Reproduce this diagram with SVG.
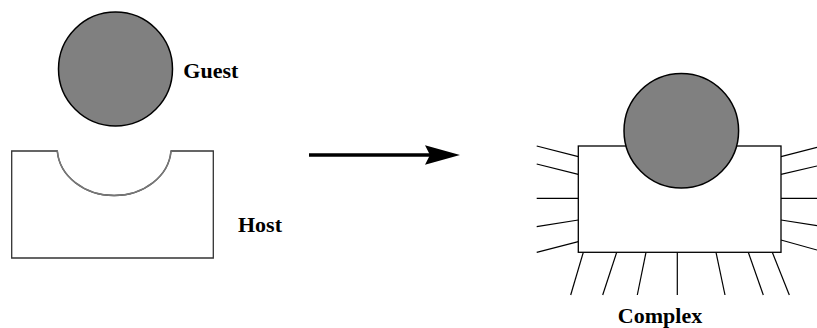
<svg xmlns="http://www.w3.org/2000/svg" width="817" height="328" viewBox="0 0 817 328">
<style>
.lbl{font-family:"Liberation Serif","Times New Roman",serif;font-weight:bold;font-size:22px;fill:#000}
.ball{fill:#808080;stroke:#000;stroke-width:1.5}
.box{fill:#fff;stroke:#000;stroke-width:1.3}
.ray{stroke:#000;stroke-width:1.2;fill:none}
</style>
<g id="guest">
<circle class="ball" cx="115.5" cy="69" r="57"/>
<text class="lbl" x="183.3" y="77.5">Guest</text>
</g>
<g id="host">
<path d="M11.7,151 H57.3 A57,48 0 0 0 171,151 H213.3 V258 H11.7 Z" fill="#fff" stroke="#333" stroke-width="1.3"/>
<path d="M57.3,151 A57,48 0 0 0 171,151" fill="none" stroke="#777" stroke-width="1.6"/>
<text class="lbl" x="238" y="232.3">Host</text>
</g>
<g id="connectors">
<line x1="309" y1="155" x2="430" y2="155" stroke="#000" stroke-width="3.5"/>
<path d="M460,155 L425,145.3 L430,155 L425,164.7 Z" fill="#000"/>
</g>
<g id="complex">
<g class="ray">
<line x1="536.7" y1="146" x2="578.3" y2="156.7"/>
<line x1="536.7" y1="164" x2="578.3" y2="174.3"/>
<line x1="536.7" y1="198.3" x2="578.3" y2="198.3"/>
<line x1="536.7" y1="226.7" x2="578.3" y2="220"/>
<line x1="536.7" y1="252.3" x2="578.3" y2="241.7"/>
<line x1="781" y1="156.7" x2="817" y2="147.3"/>
<line x1="781" y1="174.3" x2="817" y2="166"/>
<line x1="781" y1="198.3" x2="817" y2="198.3"/>
<line x1="781" y1="220" x2="817" y2="225.7"/>
<line x1="781" y1="240" x2="817" y2="250"/>
<line x1="583.3" y1="252.3" x2="570.7" y2="295"/>
<line x1="616.7" y1="252.3" x2="602.7" y2="295"/>
<line x1="646" y1="252.3" x2="637.3" y2="295"/>
<line x1="677.3" y1="252.3" x2="677.3" y2="295"/>
<line x1="716" y1="252.3" x2="725" y2="295"/>
<line x1="748.3" y1="252.3" x2="763.3" y2="295"/>
<line x1="772.3" y1="252.3" x2="789.3" y2="295"/>
</g>
<rect class="box" x="578.3" y="146" width="202.7" height="106.3"/>
<circle class="ball" cx="681.3" cy="130.8" r="57.3"/>
<text class="lbl" x="660" y="323.3" text-anchor="middle">Complex</text>
</g>
</svg>
